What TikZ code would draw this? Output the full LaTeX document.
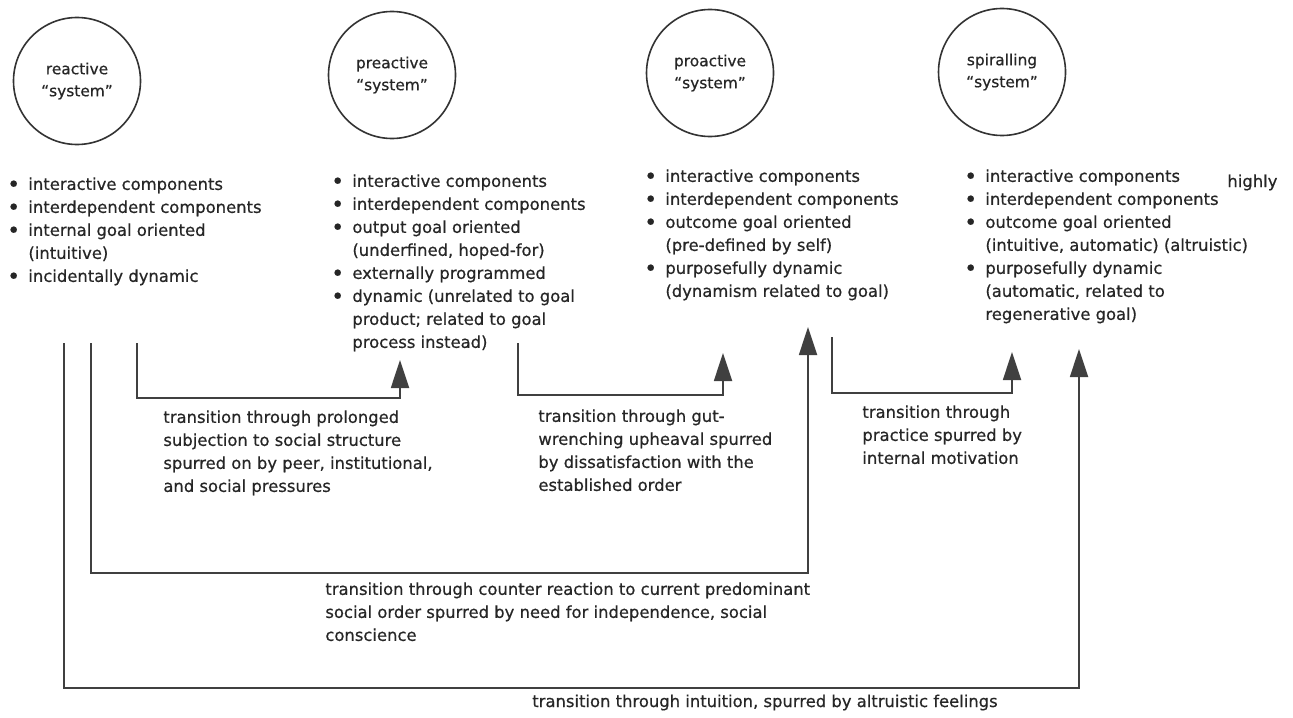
\documentclass[tikz,border=0pt]{standalone}
\usepackage{fontspec}
\setmainfont{DejaVu Sans}[FakeBold=0.6]
\usetikzlibrary{arrows.meta}

\newcommand{\bul}{\makebox[10pt][l]{\hspace*{-0.6pt}\raisebox{-1pt}[0pt][0pt]{\fontsize{11pt}{11.5pt}\selectfont\textbullet}}}
\newcommand{\ind}{\hspace*{10pt}}

\begin{document}
\begin{tikzpicture}[x=0.5pt, y=-0.5pt, >={Triangle[length=14pt, width=9pt]},
    system/.style={circle, draw=black!80, line width=0.8pt, minimum size=63.5pt, inner sep=0pt,
        align=center, font=\fontsize{7.7pt}{11pt}\selectfont, text=black!85},
    attrs/.style={anchor=north west, inner sep=0pt, align=left,
        font=\fontsize{8.2pt}{11.5pt}\selectfont, text=black!85},
    trans/.style={->, line width=0.9pt, draw=black!75}]
    \useasboundingbox (0,0) rectangle (1293,717);

    % Systems
    \node[system] (reactive) at (77,81) {reactive\\``system''};
    \node[system] (preactive) at (392,75) {preactive\\``system''};
    \node[system] (proactive) at (710,73) {proactive\\``system''};
    \node[system] (spiralling) at (1002,72) {spiralling\\``system''};

    % Attribute lists
    \node[attrs] (reactive-list) at (8,177) {\bul interactive components\\
        \bul interdependent components\\
        \bul internal goal oriented\\
        \ind (intuitive)\\
        \bul incidentally dynamic};
    \node[attrs] (preactive-list) at (332,174) {\bul interactive components\\
        \bul interdependent components\\
        \bul output goal oriented\\
        \ind (underfined, hoped-for)\\
        \bul externally programmed\\
        \bul dynamic (unrelated to goal\\
        \ind product; related to goal\\
        \ind process instead)};
    \node[attrs] (proactive-list) at (645,169) {\bul interactive components\\
        \bul interdependent components\\
        \bul outcome goal oriented\\
        \ind (pre-defined by self)\\
        \bul purposefully dynamic\\
        \ind (dynamism related to goal)};
    \node[attrs] (spiralling-list) at (965,169) {\bul interactive components\\
        \bul interdependent components\\
        \bul outcome goal oriented\\
        \ind (intuitive, automatic) (altruistic)\\
        \bul purposefully dynamic\\
        \ind (automatic, related to\\
        \ind regenerative goal)};
    \node[attrs, anchor=base west] (highly) at (1227,187) {highly};

    % Transitions
    \coordinate (s1) at (137,343);
    \coordinate (e1) at (400,360);
    \coordinate (s2) at (518,343);
    \coordinate (e2) at (723,353);
    \coordinate (s3) at (832,337);
    \coordinate (e3) at (1012,352);
    \coordinate (s4) at (91,343);
    \coordinate (e4) at (808,327);
    \coordinate (s5) at (64,343);
    \coordinate (e5) at (1079,349);

    \draw[trans] (s1) -- ++(0,55) -| (e1);
    \draw[trans] (s2) -- ++(0,52) -| (e2);
    \draw[trans] (s3) -- ++(0,56) -| (e3);
    \draw[trans] (s4) -- ++(0,230) -| (e4);
    \draw[trans] (s5) -- ++(0,345) -| (e5);

    \node[attrs] (subjection) at (163,410) {transition through prolonged\\
        subjection to social structure\\
        spurred on by peer, institutional,\\
        and social pressures};
    \node[attrs] (upheaval) at (538,409) {transition through gut-\\
        wrenching upheaval spurred\\
        by dissatisfaction with the\\
        established order};
    \node[attrs] (practice) at (862,405) {transition through\\
        practice spurred by\\
        internal motivation};
    \node[attrs] (counter) at (325,582) {transition through counter reaction to current predominant\\
        social order spurred by need for independence, social\\
        conscience};
    \node[attrs, anchor=base east] (intuition) at (998,707) {transition through intuition, spurred by altruistic feelings};
\end{tikzpicture}
\end{document}
